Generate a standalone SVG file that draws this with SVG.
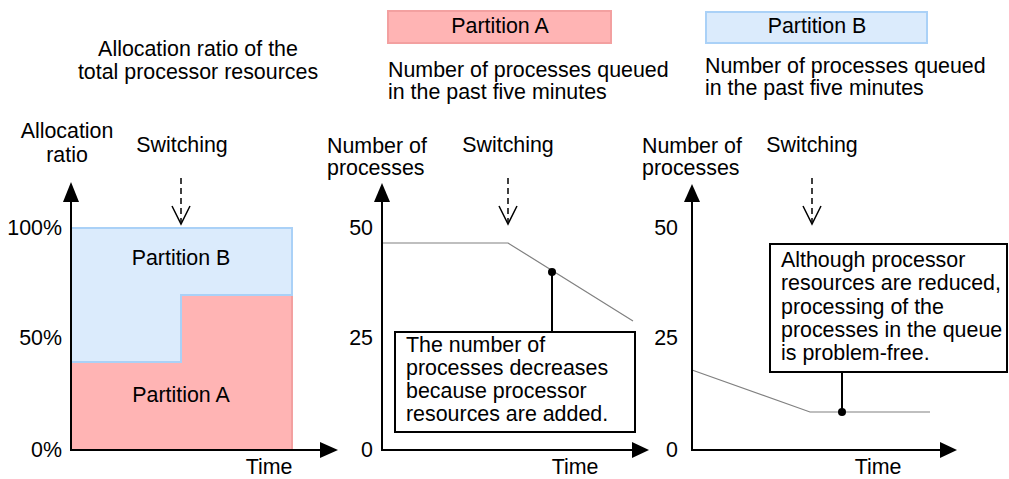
<svg xmlns="http://www.w3.org/2000/svg" width="1009" height="479" viewBox="0 0 1009 479">
<style>
text{font-family:"Liberation Sans",Arial,sans-serif;font-size:21.4px;fill:#000}
.c{text-anchor:middle}
.r{text-anchor:end}
.axis{stroke:#000;stroke-width:2;fill:none}
.head{fill:#000;stroke:none}
.dash{stroke:#000;stroke-width:1.5;fill:none;stroke-dasharray:6,4}
.chev{stroke:#000;stroke-width:1.5;fill:none}
.trend{stroke:#808080;stroke-width:1.2;fill:none}
.lead{stroke:#000;stroke-width:2;fill:none}
.note{fill:#fff;stroke:#000;stroke-width:2}
.pa{fill:#ffb4b4;stroke:#f3a0a0;stroke-width:2}
.pb{fill:#dbebfc;stroke:#aad1f7;stroke-width:2}
</style>
<rect width="1009" height="479" fill="#fff"/>

<g id="title-left">
<text class="c" x="198" y="56">Allocation ratio of the</text>
<text class="c" x="198" y="79">total processor resources</text>
</g>
<g id="legend-a">
<rect class="pa" x="388" y="11" width="223" height="32"/>
<text class="c" x="500" y="33">Partition A</text>
<text x="388" y="77">Number of processes queued</text>
<text x="388" y="99">in the past five minutes</text>
</g>
<g id="legend-b">
<rect class="pb" x="706" y="12" width="221" height="31"/>
<text class="c" x="817" y="33">Partition B</text>
<text x="705" y="73">Number of processes queued</text>
<text x="705" y="95">in the past five minutes</text>
</g>

<!-- Panel 1 -->
<g id="chart1">
<rect class="pb" x="71" y="228" width="221" height="222"/>
<polygon points="71,362 181,362 181,295 292,295 292,450 71,450" fill="#ffb4b4"/>
<polyline points="71,362 181,362 181,295 292,295" fill="none" stroke="#aad1f7" stroke-width="2"/>
<line x1="292" y1="296" x2="292" y2="450" stroke="#f3a0a0" stroke-width="2"/>
<text class="c" x="181" y="265">Partition B</text>
<text class="c" x="181" y="402">Partition A</text>
<text class="c" x="67" y="138">Allocation</text>
<text class="c" x="67" y="162">ratio</text>
<text class="r" x="62" y="235">100%</text>
<text class="r" x="62" y="345">50%</text>
<text class="r" x="62" y="457">0%</text>
<text class="c" x="182" y="152">Switching</text>
<text class="c" x="269" y="474">Time</text>
</g>

<!-- Panel 2 -->
<g id="chart2">
<polyline class="trend" points="382,243 508,243 633,321"/>
<text x="327" y="153">Number of</text>
<text x="327" y="175">processes</text>
<text class="r" x="373" y="235">50</text>
<text class="r" x="373" y="345">25</text>
<text class="r" x="373" y="457">0</text>
<text class="c" x="508" y="152">Switching</text>
<text class="c" x="575" y="474">Time</text>
</g>
<g id="note2">
<rect class="note" x="395" y="332" width="240" height="100"/>
<text x="406" y="352">The number of</text>
<text x="406" y="375">processes decreases</text>
<text x="406" y="398">because processor</text>
<text x="406" y="421">resources are added.</text>
</g>

<!-- Panel 3 -->
<g id="chart3">
<polyline class="trend" points="692,370 810,412 930,412"/>
<text x="642" y="153">Number of</text>
<text x="642" y="175">processes</text>
<text class="r" x="678" y="235">50</text>
<text class="r" x="678" y="345">25</text>
<text class="r" x="678" y="457">0</text>
<text class="c" x="812" y="152">Switching</text>
<text class="c" x="878" y="474">Time</text>
</g>
<g id="note3">
<rect class="note" x="770" y="244" width="237" height="128"/>
<text x="781" y="267">Although processor</text>
<text x="781" y="290">resources are reduced,</text>
<text x="781" y="314">processing of the</text>
<text x="781" y="337">processes in the queue</text>
<text x="781" y="360">is problem-free.</text>
</g>

<g id="connectors">
<polyline class="axis" points="71,200 71,450 322,450"/>
<polygon class="head" points="71,182 63,202 79,202"/>
<polygon class="head" points="338,450 320,442 320,458"/>
<polyline class="axis" points="382,200 382,450 634,450"/>
<polygon class="head" points="382,183 374,202 390,202"/>
<polygon class="head" points="649,450 632,442 632,458"/>
<polyline class="axis" points="692,200 692,450 942,450"/>
<polygon class="head" points="692,184 684,202 700,202"/>
<polygon class="head" points="957,450 940,442 940,458"/>
<line class="dash" x1="181" y1="178" x2="181" y2="222"/>
<polyline class="chev" points="172,206 181,224 190,206"/>
<line class="dash" x1="508" y1="178" x2="508" y2="222"/>
<polyline class="chev" points="499,206 508,224 517,206"/>
<line class="dash" x1="812" y1="178" x2="812" y2="222"/>
<polyline class="chev" points="803,206 812,224 821,206"/>
<line class="lead" x1="552" y1="272" x2="552" y2="332"/>
<circle cx="552" cy="272" r="4" fill="#000"/>
<line class="lead" x1="842" y1="372" x2="842" y2="412"/>
<circle cx="842" cy="412" r="4" fill="#000"/>
</g>
</svg>
